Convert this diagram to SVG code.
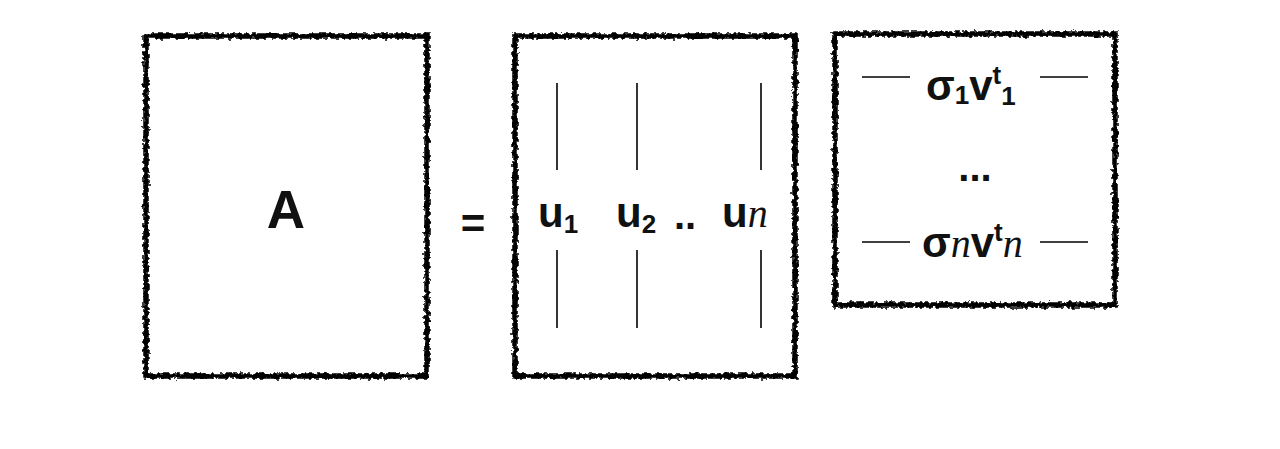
<svg xmlns="http://www.w3.org/2000/svg" width="1280" height="449" viewBox="0 0 1280 449">
<style>
.box{fill:none;stroke:#000;stroke-width:5.5;filter:url(#rough)}
.t{font-family:"Liberation Sans",Arial,sans-serif;font-weight:bold;fill:#111}
.i{font-family:"Liberation Serif","Times New Roman",serif;font-style:italic;font-weight:normal}
.ln{stroke:#000;stroke-width:1.6}
</style>
<defs>
<filter id="rough" x="-5%" y="-5%" width="110%" height="110%">
<feTurbulence type="fractalNoise" baseFrequency="0.25" numOctaves="2" seed="5" result="n"/>
<feDisplacementMap in="SourceGraphic" in2="n" scale="6" xChannelSelector="R" yChannelSelector="G"/>
</filter>
</defs>
<rect width="1280" height="449" fill="#fff"/>
<g id="boxA">
<rect class="box" x="146" y="36" width="281" height="340"/>
<text class="t" x="286" y="228" font-size="53" text-anchor="middle">A</text>
</g>
<g id="eq">
<text class="t" x="473" y="238" font-size="42" text-anchor="middle">=</text>
</g>
<g id="boxU">
<rect class="box" x="515" y="36" width="280" height="340"/>
<text class="t" x="538" y="227" font-size="42">u<tspan font-size="26" dy="6">1</tspan></text>
<text class="t" x="616" y="227" font-size="42">u<tspan font-size="26" dy="6">2</tspan></text>
<text class="t" x="674" y="229" font-size="40">..</text>
<text class="t" x="722" y="227" font-size="42">u<tspan class="i" font-size="40">n</tspan></text>
</g>
<g id="boxS">
<rect class="box" x="835" y="34" width="280" height="271"/>
<text class="t" x="926" y="100" font-size="42">σ<tspan font-size="26" dy="4">1</tspan><tspan dy="-4">v</tspan><tspan font-size="26" dy="-16">t</tspan><tspan font-size="26" dy="21">1</tspan></text>
<text class="t" x="975" y="181" font-size="40" text-anchor="middle">...</text>
<text class="t" x="922" y="257" font-size="42">σ<tspan class="i" font-size="40">n</tspan>v<tspan font-size="26" dy="-16">t</tspan><tspan class="i" font-size="40" dy="16">n</tspan></text>
</g>
<g id="connectors">
<line class="ln" x1="557" y1="83" x2="557" y2="170"/>
<line class="ln" x1="557" y1="250" x2="557" y2="328"/>
<line class="ln" x1="637" y1="83" x2="637" y2="170"/>
<line class="ln" x1="637" y1="250" x2="637" y2="328"/>
<line class="ln" x1="761" y1="83" x2="761" y2="170"/>
<line class="ln" x1="761" y1="250" x2="761" y2="328"/>
<line class="ln" x1="862" y1="77" x2="910" y2="77"/>
<line class="ln" x1="1040" y1="77" x2="1088" y2="77"/>
<line class="ln" x1="862" y1="242" x2="910" y2="242"/>
<line class="ln" x1="1040" y1="242" x2="1088" y2="242"/>
</g>
</svg>
